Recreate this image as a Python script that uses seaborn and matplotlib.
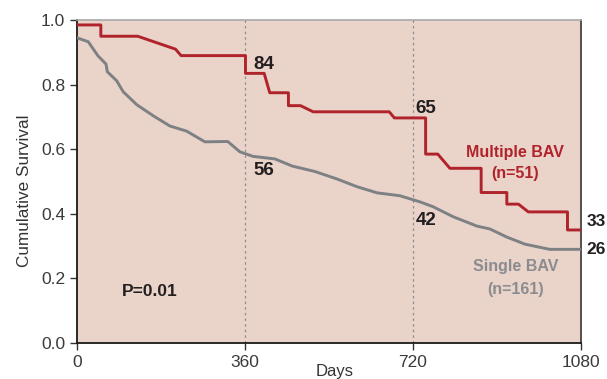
import pandas as pd
import matplotlib
matplotlib.use("Agg")
import matplotlib.pyplot as plt
import seaborn as sns

# Kaplan-Meier curves (days, cumulative survival)
multi_days = [0, 51, 51, 130, 211, 223, 361, 361, 401, 413, 453, 453, 479, 506, 669, 680,
              747, 747, 773, 799, 866, 866, 921, 921, 946, 967, 1051, 1051, 1080]
multi_surv = [0.985, 0.985, 0.95, 0.95, 0.91, 0.89, 0.89, 0.835, 0.835, 0.775, 0.775, 0.735,
              0.735, 0.716, 0.716, 0.697, 0.697, 0.585, 0.585, 0.541, 0.541, 0.466, 0.466,
              0.43, 0.43, 0.406, 0.406, 0.35, 0.35]
single_days = [0, 24, 45, 62, 65, 85, 99, 128, 164, 199, 235, 274, 323, 349, 377, 424, 461,
               510, 557, 600, 643, 692, 735, 763, 806, 857, 885, 921, 960, 1013, 1080]
single_surv = [0.945, 0.933, 0.889, 0.864, 0.84, 0.812, 0.778, 0.738, 0.703, 0.672, 0.656,
               0.623, 0.624, 0.592, 0.578, 0.57, 0.548, 0.531, 0.508, 0.484, 0.465, 0.456,
               0.437, 0.422, 0.391, 0.362, 0.353, 0.328, 0.306, 0.29, 0.29]

# numbers at risk shown at 360 / 720 / 1080 days
at_risk_multi = ["84", "65", "33"]
at_risk_single = ["56", "42", "26"]
xticks = [0, 360, 720, 1080]
yticks = [0.0, 0.2, 0.4, 0.6, 0.8, 1.0]

red = "#B0232B"
grey = "#7E8184"
bg = "#EAD3C9"
ink = "#231F20"

sns.set_theme(style="ticks")
plt.rcParams["font.family"] = ["Liberation Sans", "DejaVu Sans"]

df = pd.concat([
    pd.DataFrame({"days": multi_days, "surv": multi_surv, "group": "Multiple BAV"}),
    pd.DataFrame({"days": single_days, "surv": single_surv, "group": "Single BAV"}),
])

fig = plt.figure(figsize=(6.07, 3.79), dpi=100)
ax = fig.add_axes([0.1269, 0.095, 0.8303, 0.852])
ax.set_facecolor(bg)

for d in [360, 720]:
    ax.axvline(d, color="#8E8E8E", ls=(0, (2, 2.5)), lw=0.9, zorder=1)

sns.lineplot(data=df, x="days", y="surv", hue="group", palette={"Multiple BAV": red, "Single BAV": grey},
             estimator=None, sort=False, lw=2.1, legend=False, ax=ax, zorder=3)

ax.set_xlim(0, 1080)
ax.set_ylim(0, 1.0)
ax.set_xticks(xticks)
ax.set_xticklabels([str(t) for t in xticks])
ax.set_yticks(yticks)
ax.set_yticklabels([f"{t:.1f}" for t in yticks])
ax.tick_params(axis="both", direction="out", length=5, width=1, colors="#333333", labelsize=12.5,
               labelcolor="#3a3a3a")
ax.set_xlabel("Days", fontsize=12, color="#333333")
ax.xaxis.set_label_coords(0.512, -0.065)
ax.set_ylabel("Cumulative Survival", fontsize=12.3, color="#333333")
ax.yaxis.set_label_coords(-0.09, 0.47)

for s in ["left", "bottom"]:
    ax.spines[s].set_color("#1a1a1a")
    ax.spines[s].set_linewidth(1.3)
ax.spines["top"].set_color("#a8a8a8")
ax.spines["top"].set_linewidth(1.2)
ax.spines["right"].set_color("#444444")
ax.spines["right"].set_linewidth(1.3)

bold = dict(fontsize=13.5, fontweight="bold", color=ink, va="center", ha="left")
ax.text(377, 0.864, at_risk_multi[0], **bold)
ax.text(726, 0.727, at_risk_multi[1], **bold)
ax.text(379, 0.533, at_risk_single[0], **bold)
ax.text(726, 0.379, at_risk_single[1], **bold)
edge = dict(bold, fontsize=12.5)
ax.text(1091, 0.376, at_risk_multi[2], clip_on=False, **edge)
ax.text(1091, 0.288, at_risk_single[2], clip_on=False, **edge)

lab = dict(fontsize=11.5, fontweight="bold", va="center", ha="center")
ax.text(939, 0.591, "Multiple BAV", color=red, **lab)
ax.text(939, 0.525, "(n=51)", color=red, **lab)
ax.text(939, 0.236, "Single BAV", color="#8A8C8F", **lab)
ax.text(939, 0.167, "(n=161)", color="#8A8C8F", **lab)
ax.text(96, 0.159, "P=0.01", fontsize=12.5, fontweight="bold", color=ink, va="center", ha="left")

fig.savefig("out.png", dpi=100)
